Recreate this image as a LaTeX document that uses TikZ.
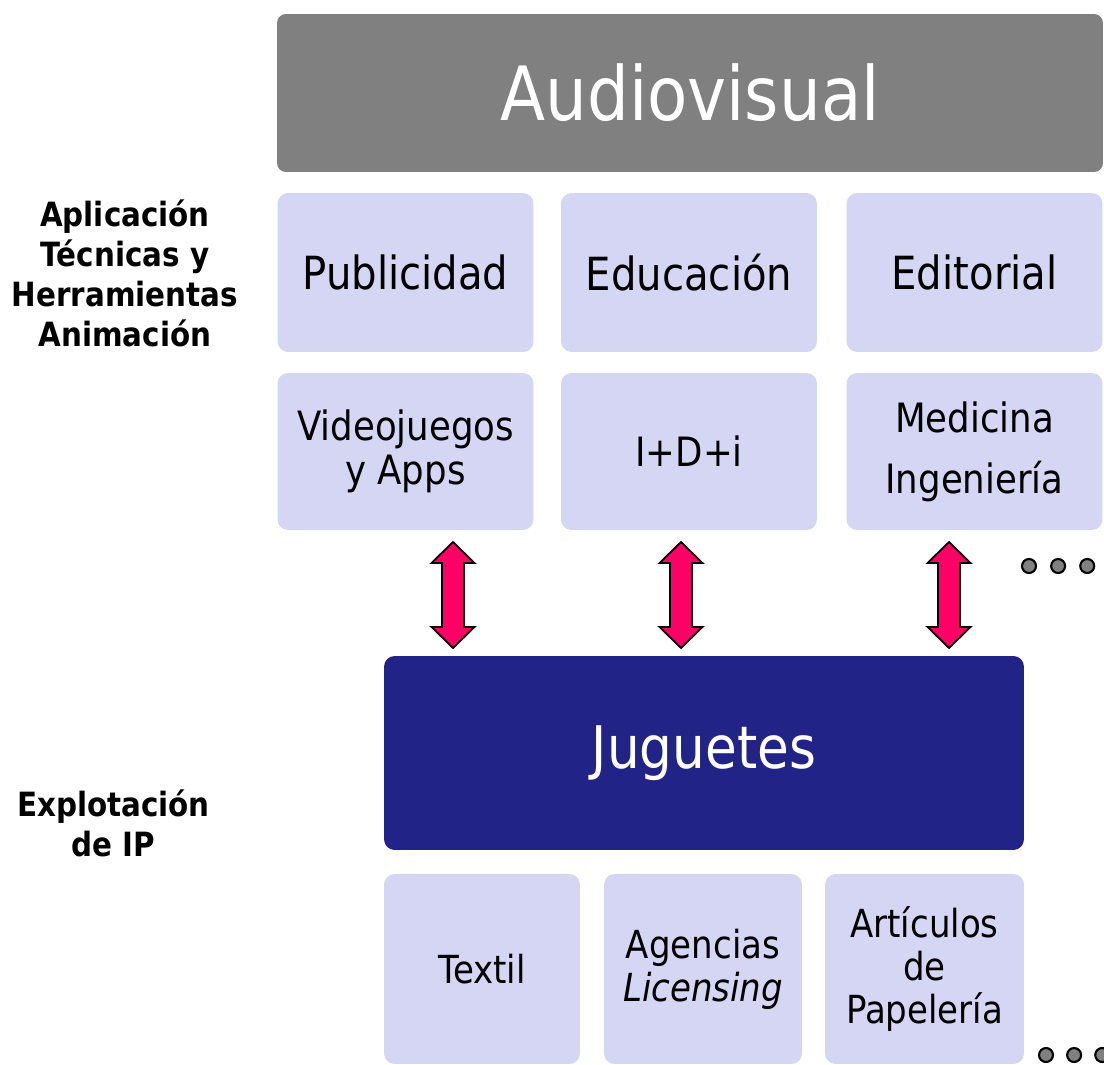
\documentclass[tikz,border=0pt]{standalone}
\usepackage{fontspec}
\setmainfont{DejaVu Sans}[FakeStretch=0.88]
\usepackage{tikz}
\usetikzlibrary{positioning}
\definecolor{avgray}{RGB}{128,128,128}
\definecolor{avlav}{RGB}{213,213,244}
\definecolor{avnavy}{RGB}{34,35,135}
\definecolor{avpink}{RGB}{255,0,102}

\begin{document}
\begin{tikzpicture}[x=0.02cm, y=-0.02cm,
  head/.style={fill=avgray, rounded corners=5pt, text=white, minimum width=16.52cm, minimum height=3.16cm, inner sep=0pt, font=\fontsize{42.6}{50}\selectfont},
  cat/.style={fill=avlav, rounded corners=6pt, minimum width=5.12cm, minimum height=3.18cm, inner sep=0pt, align=center, font=\fontsize{26}{31}\selectfont},
  sub/.style={cat, minimum height=3.14cm, font=\fontsize{23}{25}\selectfont},
  core/.style={fill=avnavy, rounded corners=6pt, text=white, minimum width=12.8cm, minimum height=3.88cm, inner sep=0pt, font=\fontsize{33.4}{40}\selectfont},
  prod/.style={fill=avlav, rounded corners=6pt, minimum height=3.8cm, inner sep=0pt, align=center, font=\fontsize{22}{24.4}\selectfont},
  lbl/.style={font=\fontsize{19}{22.7}\selectfont\bfseries, align=center},
  dot/.style={circle, draw=black, line width=1.2pt, fill=avgray, minimum size=0.28cm, inner sep=0pt},
  dbl/.style={draw=black, line width=1pt, fill=avpink, line join=miter}]
  \clip (0,0) rectangle (1104,1064);
  \node[head] (aud) at (690,93) {Audiovisual};
  \node[cat] (pub) at (405.5,272.5) {Publicidad};
  \node[cat] (edu) at (689,272.5) {Educación};
  \node[cat] (edi) at (974.5,272.5) {Editorial};
  \node[sub] (vid) at (405.5,451.5) {Videojuegos\\y Apps};
  \node[sub] (idi) at (689,451.5) {I+D+i};
  \node[sub, font=\fontsize{23}{34.6}\selectfont] (med) at (974.5,451.5) {Medicina\\Ingeniería};
  \node[lbl] (apl) at (125,273.5) {Aplicación\\Técnicas y\\Herramientas\\Animación};
  \coordinate (a1) at (453,542);
  \coordinate (a2) at (681,542);
  \coordinate (a3) at (949,542);
  \draw[dbl] (a1) -- ++(21.5,21) -- ++(-10.5,0) -- ++(0,64) -- ++(10.5,0) -- ++(-21.5,21) -- ++(-21.5,-21) -- ++(10.5,0) -- ++(0,-64) -- ++(-10.5,0) -- cycle;
  \draw[dbl] (a2) -- ++(21.5,21) -- ++(-10.5,0) -- ++(0,64) -- ++(10.5,0) -- ++(-21.5,21) -- ++(-21.5,-21) -- ++(10.5,0) -- ++(0,-64) -- ++(-10.5,0) -- cycle;
  \draw[dbl] (a3) -- ++(21.5,21) -- ++(-10.5,0) -- ++(0,64) -- ++(10.5,0) -- ++(-21.5,21) -- ++(-21.5,-21) -- ++(10.5,0) -- ++(0,-64) -- ++(-10.5,0) -- cycle;
  \node[dot] (d1) at (1029,566) {};
  \node[dot, right=0.26cm of d1] (d2) {};
  \node[dot, right=0.26cm of d2] (d3) {};
  \node[core] (jug) at (704,753) {Juguetes};
  \node[lbl] (exp) at (113.5,823) {Explotación\\de IP};
  \node[prod, minimum width=3.92cm] (tex) at (482,969) {Textil};
  \node[prod, minimum width=3.96cm] (age) at (703,969) {Agencias\\\textit{Licensing}};
  \node[prod, minimum width=3.98cm] (art) at (924.5,969) {Artículos\\de\\Papelería};
  \node[dot] (e1) at (1046,1055) {};
  \node[dot, right=0.24cm of e1] (e2) {};
  \node[dot, right=0.24cm of e2] (e3) {};
\end{tikzpicture}
\end{document}
